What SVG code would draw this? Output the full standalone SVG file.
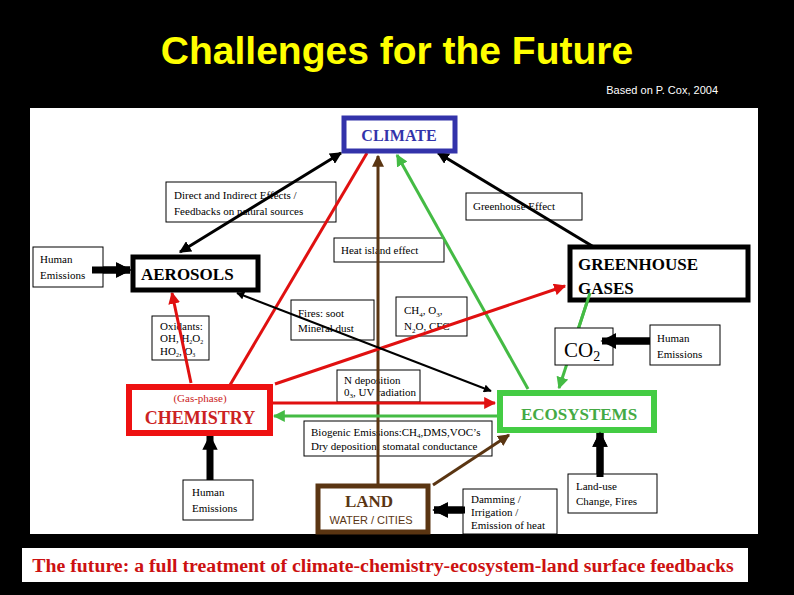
<svg xmlns="http://www.w3.org/2000/svg" width="794" height="595" viewBox="0 0 794 595">
<defs>
<style>
.b{fill:#fff;stroke:#000;stroke-width:1}
.t{font-family:"Liberation Serif",serif;font-size:11px;fill:#000}
.big{font-family:"Liberation Serif",serif;font-weight:bold}
</style>
<marker id="ak" viewBox="0 0 10 10" refX="9" refY="5" markerWidth="4" markerHeight="4" orient="auto-start-reverse"><path d="M0,0L10,5L0,10z" fill="#000"/></marker>
<marker id="ar" viewBox="0 0 10 10" refX="9" refY="5" markerWidth="4" markerHeight="4" orient="auto-start-reverse"><path d="M0,0L10,5L0,10z" fill="#e01010"/></marker>
<marker id="ag" viewBox="0 0 10 10" refX="9" refY="5" markerWidth="4" markerHeight="4" orient="auto-start-reverse"><path d="M0,0L10,5L0,10z" fill="#44bb44"/></marker>
<marker id="an" viewBox="0 0 10 10" refX="9" refY="5" markerWidth="4" markerHeight="4" orient="auto-start-reverse"><path d="M0,0L10,5L0,10z" fill="#5a3512"/></marker>
<marker id="fat" viewBox="0 0 10 10" refX="9" refY="5" markerWidth="2.2" markerHeight="2.2" orient="auto"><path d="M0,0L10,5L0,10z" fill="#000"/></marker>
</defs>
<rect width="794" height="595" fill="#000"/>
<text x="397" y="64" text-anchor="middle" font-family="Liberation Sans,sans-serif" font-weight="bold" font-size="39" fill="#ffff00">Challenges for the Future</text>
<text x="718" y="94" text-anchor="end" font-family="Liberation Sans,sans-serif" font-size="11" fill="#fff">Based on P. Cox, 2004</text>
<rect x="30" y="108" width="728" height="426" fill="#fff"/>
<rect x="22" y="548" width="726" height="34" fill="#fff"/>
<text x="383" y="572" text-anchor="middle" class="big" font-size="19.8" fill="#cc1111">The future: a full treatment of climate-chemistry-ecosystem-land surface feedbacks</text>

<g id="direct"><rect class="b" x="166" y="182" width="170" height="40"/><text class="t" x="174" y="199">Direct and Indirect Effects /</text><text class="t" x="174" y="215">Feedbacks on natural sources</text></g>
<g id="ghe"><rect class="b" x="466" y="193" width="116" height="27"/><text class="t" x="473" y="210">Greenhouse Effect</text></g>
<g id="heat"><rect class="b" x="334" y="238" width="110" height="24"/><text class="t" x="341" y="254">Heat island effect</text></g>
<g id="fires"><rect class="b" x="291" y="300" width="83" height="40"/><text class="t" x="298" y="317">Fires: soot</text><text class="t" x="298" y="332">Mineral dust</text></g>
<g id="ch4"><rect class="b" x="396" y="297" width="71" height="39"/><text class="t" x="404" y="314">CH<tspan font-size="7" dy="3">4</tspan><tspan dy="-3">, O</tspan><tspan font-size="7" dy="3">3</tspan><tspan dy="-3">,</tspan></text><text class="t" x="404" y="330">N<tspan font-size="7" dy="3">2</tspan><tspan dy="-3">O, CFC</tspan></text></g>
<g id="oxid"><rect class="b" x="152" y="316" width="57" height="44"/><text class="t" x="160" y="330" font-size="9">Oxidants:</text><text class="t" x="160" y="342" font-size="9">OH, H<tspan font-size="6" dy="2">2</tspan><tspan dy="-2">O</tspan><tspan font-size="6" dy="2">2</tspan></text><text class="t" x="160" y="355" font-size="9">HO<tspan font-size="6" dy="2">2</tspan><tspan dy="-2">, O</tspan><tspan font-size="6" dy="2">3</tspan></text></g>
<g id="ndep"><rect class="b" x="337" y="370" width="83" height="32"/><text class="t" x="344" y="384" font-size="10">N deposition</text><text class="t" x="344" y="396" font-size="10">0<tspan font-size="7" dy="2">3</tspan><tspan dy="-2">, UV radiation</tspan></text></g>
<g id="biogenic"><rect class="b" x="304" y="421" width="188" height="35"/><text class="t" x="311" y="436" font-size="10.5">Biogenic Emissions:CH<tspan font-size="7" dy="2">4</tspan><tspan dy="-2">,DMS,VOC’s</tspan></text><text class="t" x="311" y="450" font-size="10.5">Dry deposition: stomatal conductance</text></g>

<g id="connectors" fill="none">
<line x1="378" y1="484" x2="378" y2="156" stroke="#5a3512" stroke-width="3" marker-end="url(#an)"/>
<line x1="367" y1="153" x2="230" y2="385" stroke="#e01010" stroke-width="3"/>
<line x1="180" y1="252" x2="341" y2="153" stroke="#000" stroke-width="3" marker-start="url(#ak)" marker-end="url(#ak)"/>
<line x1="528" y1="389" x2="397" y2="155" stroke="#44bb44" stroke-width="3" marker-end="url(#ag)"/>
<line x1="612" y1="258" x2="438" y2="153" stroke="#000" stroke-width="3" marker-end="url(#ak)"/>
<line x1="275" y1="384" x2="565" y2="286" stroke="#e01010" stroke-width="3" marker-end="url(#ar)"/>
<line x1="237" y1="293" x2="491" y2="391" stroke="#000" stroke-width="2" marker-start="url(#ak)" marker-end="url(#ak)"/>
<line x1="191" y1="383" x2="172" y2="293" stroke="#e01010" stroke-width="3" marker-end="url(#ar)"/>
<line x1="272" y1="403" x2="495" y2="403" stroke="#e01010" stroke-width="3" marker-end="url(#ar)"/>
<line x1="497" y1="416" x2="274" y2="416" stroke="#44bb44" stroke-width="3" marker-end="url(#ag)"/>
<line x1="590" y1="293" x2="559" y2="388" stroke="#44bb44" stroke-width="3" marker-end="url(#ag)"/>
<line x1="433" y1="485" x2="509" y2="435" stroke="#5a3512" stroke-width="3" marker-end="url(#an)"/>
<line x1="92" y1="270" x2="130" y2="270" stroke="#000" stroke-width="7" marker-end="url(#fat)"/>
<line x1="210" y1="480" x2="210" y2="436" stroke="#000" stroke-width="7" marker-end="url(#fat)"/>
<line x1="650" y1="341" x2="602" y2="341" stroke="#000" stroke-width="7" marker-end="url(#fat)"/>
<line x1="465" y1="510" x2="434" y2="510" stroke="#000" stroke-width="7" marker-end="url(#fat)"/>
<line x1="600" y1="477" x2="600" y2="433" stroke="#000" stroke-width="7" marker-end="url(#fat)"/>
</g>

<g id="climate"><rect x="344" y="118" width="111" height="33" fill="#fff" stroke="#3333aa" stroke-width="5"/><text x="399" y="141" text-anchor="middle" class="big" font-size="16" fill="#3333aa">CLIMATE</text></g>
<g id="hum1"><rect class="b" x="33" y="247" width="70" height="40"/><text class="t" x="40" y="263">Human</text><text class="t" x="40" y="279">Emissions</text></g>
<line x1="92" y1="270" x2="130" y2="270" stroke="#000" stroke-width="7" marker-end="url(#fat)"/>
<g id="aerosols"><rect x="133" y="257" width="125" height="33" fill="#fff" stroke="#000" stroke-width="5"/><text x="141" y="280" class="big" font-size="17">AEROSOLS</text></g>
<g id="ghg"><rect x="570" y="247" width="178" height="53" fill="#fff" stroke="#000" stroke-width="5"/><text x="578" y="270" class="big" font-size="17">GREENHOUSE</text><text x="578" y="294" class="big" font-size="17">GASES</text></g>
<line x1="590" y1="293" x2="576" y2="336" stroke="#44bb44" stroke-width="3"/>
<g id="co2"><rect class="b" x="555" y="328" width="58" height="37"/><text x="564" y="357" font-family="Liberation Serif,serif" font-size="21">CO<tspan font-size="14" dy="4">2</tspan></text></g>
<g id="hum2"><rect class="b" x="650" y="325" width="70" height="40"/><text class="t" x="657" y="342">Human</text><text class="t" x="657" y="358">Emissions</text></g>
<g id="chemistry"><rect x="129" y="387" width="141" height="46" fill="#fff" stroke="#ee1111" stroke-width="6"/><text x="200" y="402" text-anchor="middle" font-family="Liberation Serif,serif" font-size="11" fill="#cc2222">(Gas-phase)</text><text x="200" y="424" text-anchor="middle" class="big" font-size="18" fill="#cc2222">CHEMISTRY</text></g>
<g id="ecosystems"><rect x="500" y="393" width="154" height="37" fill="#fff" stroke="#44cc44" stroke-width="6"/><text x="579" y="420" text-anchor="middle" class="big" font-size="17" fill="#44aa44">ECOSYSTEMS</text></g>
<g id="hum3"><rect class="b" x="183" y="480" width="70" height="40"/><text class="t" x="192" y="496">Human</text><text class="t" x="192" y="512">Emissions</text></g>
<g id="land"><rect x="318" y="486" width="110" height="46" fill="#fff" stroke="#5a3512" stroke-width="5"/><text x="369" y="507" text-anchor="middle" class="big" font-size="17" fill="#5a3512">LAND</text><text x="371" y="524" text-anchor="middle" font-family="Liberation Sans,sans-serif" font-size="11" fill="#5a3512">WATER / CITIES</text></g>
<g id="damming"><rect class="b" x="463" y="489" width="94" height="45"/><text class="t" x="471" y="503" font-size="10">Damming /</text><text class="t" x="471" y="516" font-size="10">Irrigation /</text><text class="t" x="471" y="529" font-size="10">Emission of heat</text></g>
<g id="landuse"><rect class="b" x="568" y="474" width="89" height="39"/><text class="t" x="576" y="490">Land-use</text><text class="t" x="576" y="505">Change, Fires</text></g>
<g id="fatarrows">
<line x1="650" y1="341" x2="602" y2="341" stroke="#000" stroke-width="7" marker-end="url(#fat)"/>
<line x1="465" y1="510" x2="434" y2="510" stroke="#000" stroke-width="7" marker-end="url(#fat)"/>
<line x1="600" y1="477" x2="600" y2="433" stroke="#000" stroke-width="7" marker-end="url(#fat)"/>
</g>
</svg>
